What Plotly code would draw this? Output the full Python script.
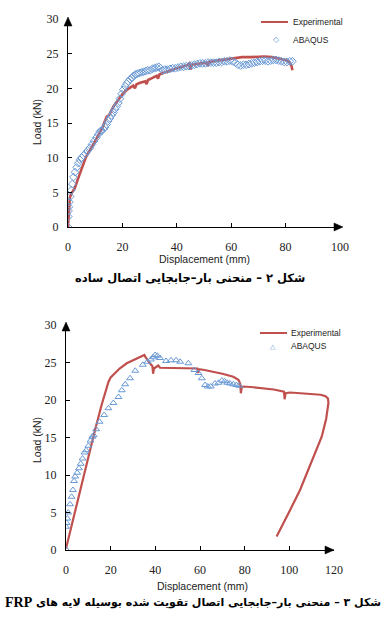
import plotly.graph_objects as go

# ---------- Data: Figure 2 (simple connection) ----------
top_exp_x = [0, 0.3, 0.7, 1.5, 2.5, 4.0, 5.5, 6.6, 8.0, 9.5, 11.0, 12.5, 14.2, 15.2, 16.7, 18.5, 20.3, 22.0,
             24.0, 24.6, 25.2, 26.5, 28.4, 28.9, 29.4, 30.5, 32.6, 33.1, 33.6, 35.0, 37.5, 40.0, 42.0, 43.6,
             44.6, 45.0, 45.4, 47.0, 49.0, 51.0, 51.4, 51.8, 55.0, 58.0, 60.8, 64.0, 67.0, 69.4, 72.0, 75.0,
             77.9, 80.0, 81.6, 82.2, 82.5]
top_exp_y = [0, 2.8, 4.3, 5.0, 5.6, 7.3, 8.9, 10.1, 11.0, 12.0, 13.0, 14.2, 15.9, 16.2, 17.4, 18.4, 19.3, 19.9,
             20.4, 20.0, 20.6, 20.8, 21.0, 20.6, 21.2, 21.4, 21.8, 21.4, 22.0, 22.2, 22.6, 22.9, 23.1, 23.3,
             23.6, 22.7, 23.4, 23.5, 23.6, 23.7, 23.2, 23.8, 24.0, 24.2, 24.3, 24.5, 24.5, 24.6, 24.6, 24.5,
             24.3, 24.1, 23.7, 23.2, 22.6]

top_abq_x = [0, 0.1, 0.2, 0.3, 0.5, 0.8, 1.2, 1.6, 2.0, 2.6, 3.2, 3.8, 4.4, 5.0, 5.7, 6.4, 7.2, 8.0, 8.8, 9.6,
             10.4, 11.2, 11.8, 12.4, 13.0, 13.6, 14.2, 14.8, 15.4, 16.0, 16.7, 17.3, 17.9, 18.5, 19.1, 19.7,
             20.3, 21.0, 21.6, 22.2, 22.8, 23.5, 24.1, 24.8, 25.5, 26.2, 27.0, 27.8, 28.6, 29.4, 30.2, 31.0,
             31.8, 32.6, 33.4, 34.0, 34.8, 35.6, 36.5, 37.5, 38.5, 39.5, 40.5, 41.5, 42.5, 43.5, 44.5, 45.5,
             46.5, 47.5, 48.5, 49.5, 50.5, 51.5, 52.5, 53.5, 54.5, 55.5, 56.5, 57.5, 58.5, 59.5, 60.5, 61.5,
             62.5, 63.5, 64.5, 65.5, 66.5, 67.5, 68.5, 69.5, 70.5, 71.5, 72.5, 73.5, 74.5, 75.5, 76.5, 77.5,
             78.5, 79.5, 80.5, 81.5, 82.5]
top_abq_y = [0, 1.5, 2.3, 2.9, 3.6, 4.4, 5.3, 6.2, 7.2, 7.9, 8.6, 9.2, 9.7, 10.0, 10.3, 10.6, 11.0, 11.4, 11.9,
             12.4, 12.9, 13.4, 13.8, 13.9, 14.1, 14.4, 14.8, 15.3, 15.7, 16.1, 16.5, 17.0, 17.4, 17.9, 18.5,
             19.2, 19.8, 20.3, 20.7, 21.0, 21.3, 21.5, 21.8, 22.0, 22.1, 22.2, 22.3, 22.4, 22.5, 22.6, 22.6,
             22.8, 22.9, 23.0, 23.1, 22.9, 22.6, 22.7, 22.7, 22.8, 22.9, 22.9, 23.0, 23.1, 23.1, 23.2, 23.2,
             23.3, 23.4, 23.5, 23.6, 23.6, 23.6, 23.7, 23.7, 23.7, 23.7, 23.8, 23.8, 23.9, 23.9, 24.0, 23.9,
             23.7, 23.4, 23.3, 23.4, 23.4, 23.5, 23.6, 23.7, 23.8, 23.9, 24.0, 24.0, 23.9, 24.0, 24.1, 24.1,
             24.0, 23.9, 23.8, 23.8, 23.9, 23.9]

# ---------- Data: Figure 3 (FRP-strengthened connection) ----------
bot_exp_x = [0, 6.3, 13.0, 16.0, 19.0, 20.0, 21.2, 24.0, 27.2, 30.0, 31.7, 33.5, 35.1, 35.6, 36.5, 37.6, 38.7,
             39.0, 39.4, 40.3, 41.3, 42.1, 45.0, 50.0, 55.0, 58.8, 59.2, 59.6, 62.0, 66.0, 70.0, 74.9, 77.2,
             78.0, 78.3, 78.7, 79.4, 84.0, 88.4, 93.0, 97.6, 97.9, 98.3, 100.3, 105.0, 110.0, 114.0, 116.2,
             117.3, 117.5, 116.5, 114.5, 111.0, 107.8, 104.8, 100.3, 94.3]
bot_exp_y = [0.2, 8.0, 16.0, 19.4, 22.4, 23.0, 23.4, 24.2, 24.9, 25.3, 25.6, 25.8, 26.0, 25.7, 25.4, 24.9, 24.5,
             23.5, 24.2, 24.4, 24.6, 24.3, 24.3, 24.3, 24.3, 24.2, 23.6, 24.1, 24.0, 23.8, 23.5, 23.1, 22.7,
             22.2, 20.9, 21.7, 21.8, 21.7, 21.6, 21.4, 21.1, 20.1, 20.9, 21.0, 20.9, 20.8, 20.7, 20.5,
             20.2, 19.6, 17.5, 15.1, 12.5, 10.2, 8.0, 5.3, 1.8]

bot_abq_x = [0, 0, 0.3, 0.6, 1.0, 1.8, 2.5, 3.1, 3.6, 4.1, 5.0, 5.8, 6.6, 7.4, 8.3, 9.0, 10.0, 11.0, 11.8, 12.4,
             13.5, 15.0, 17.1, 19.0, 21.2, 23.5, 25.0, 26.5, 28.7, 31.0, 34.4, 36.5, 38.0, 39.0, 39.9, 40.9,
             42.1, 44.8, 47.0, 49.3, 51.1, 54.8, 57.5, 59.3, 60.8, 62.3, 63.5, 64.8, 66.7, 68.3, 69.8, 71.0,
             72.2, 73.4, 74.9, 76.3, 77.6]
bot_abq_y = [0.1, 3.1, 3.6, 4.2, 5.0, 6.1, 7.1, 8.0, 9.2, 9.8, 10.3, 10.9, 11.5, 12.2, 13.0, 13.3, 13.9, 14.6,
             15.1, 15.3, 16.1, 17.1, 18.0, 18.9, 19.6, 20.4, 21.3, 22.1, 22.9, 23.9, 24.7, 25.1, 25.4, 25.7,
             26.0, 25.9, 25.6, 25.2, 25.3, 25.3, 25.1, 24.9, 24.0, 23.6, 22.9, 22.0, 21.8, 21.8, 22.2, 22.3,
             22.6, 22.5, 22.3, 22.2, 22.1, 22.0, 21.9]

x_ticks_top = [0, 20, 40, 60, 80, 100]
x_ticks_bot = [0, 20, 40, 60, 80, 100, 120]
y_ticks = [0, 5, 10, 15, 20, 25, 30]

caption_top = "شکل ۲ – منحنی بار–جابجایی اتصال ساده"
caption_bot_fa = "شکل ۳ – منحنی بار–جابجایی اتصال تقویت شده بوسیله لایه های"
caption_bot_en = "FRP"

RLE, PDF = "\u202b", "\u202c"

# ---------- Layout geometry (pixels) ----------
W, H = 386, 617
RED = "#C0504D"
BLUE = "#6A9AD6"


def px(xp):
    return xp / W


def py(yp):
    return 1 - yp / H


top_x0, top_x1, top_y0, top_y1 = 68, 340, 227, 19
bot_x0, bot_x1, bot_y0, bot_y1 = 66, 334, 550, 325

fig = go.Figure()

fig.add_trace(go.Scatter(x=top_exp_x, y=top_exp_y, mode="lines", line=dict(color=RED, width=2.6),
                         xaxis="x", yaxis="y", showlegend=False))
fig.add_trace(go.Scatter(x=top_abq_x, y=top_abq_y, mode="markers",
                         marker=dict(symbol="diamond-open", size=6, color=BLUE, line=dict(width=1)),
                         xaxis="x", yaxis="y", showlegend=False))
fig.add_trace(go.Scatter(x=bot_exp_x, y=bot_exp_y, mode="lines", line=dict(color=RED, width=2.2),
                         xaxis="x2", yaxis="y2", showlegend=False))
fig.add_trace(go.Scatter(x=bot_abq_x, y=bot_abq_y, mode="markers",
                         marker=dict(symbol="triangle-up-open", size=6, color=BLUE, line=dict(width=1)),
                         xaxis="x2", yaxis="y2", showlegend=False))

tickfont = dict(family="Liberation Serif, Times New Roman, serif", size=12, color="#222")
common_x = dict(showline=True, linecolor="black", linewidth=1.3, ticks="inside", ticklen=4,
                tickcolor="black", showgrid=False, zeroline=False, tickfont=tickfont,
                ticklabelstandoff=8, automargin=False)
common_y = dict(showline=True, linecolor="black", linewidth=1.3, ticks="inside", ticklen=4,
                tickcolor="black", showgrid=False, zeroline=False, tickfont=tickfont,
                ticklabelstandoff=6, automargin=False)

fig.update_layout(
    template="none",
    width=W, height=H, margin=dict(l=0, r=0, t=0, b=0, autoexpand=False),
    paper_bgcolor="white", plot_bgcolor="white", showlegend=False,
    xaxis=dict(domain=[px(top_x0), px(top_x1)], range=[0, 100], tickvals=x_ticks_top,
               anchor="y", **common_x),
    yaxis=dict(domain=[py(top_y0), py(top_y1)], range=[0, 30], tickvals=y_ticks,
               anchor="x", **common_y),
    xaxis2=dict(domain=[px(bot_x0), px(bot_x1)], range=[0, 120], tickvals=x_ticks_bot,
                anchor="y2", **common_x),
    yaxis2=dict(domain=[py(bot_y0), py(bot_y1)], range=[0, 30], tickvals=y_ticks,
                anchor="x2", **common_y),
)

shapes = []


def arrow_right(xt, yc):
    return dict(type="path", xref="paper", yref="paper",
                path=f"M {px(xt-9)} {py(yc-4)} L {px(xt)} {py(yc)} L {px(xt-9)} {py(yc+4)} Z",
                fillcolor="black", line=dict(color="black", width=0.5))


def arrow_up(xc, yt):
    return dict(type="path", xref="paper", yref="paper",
                path=f"M {px(xc-4)} {py(yt+9)} L {px(xc)} {py(yt)} L {px(xc+4)} {py(yt+9)} Z",
                fillcolor="black", line=dict(color="black", width=0.5))


shapes += [arrow_right(343, top_y0), arrow_up(top_x0, 17),
           arrow_right(334, bot_y0), arrow_up(bot_x0, 322)]

# manual legend lines
shapes.append(dict(type="line", xref="paper", yref="paper", x0=px(261), x1=px(288), y0=py(22), y1=py(22),
                   line=dict(color=RED, width=2)))
shapes.append(dict(type="line", xref="paper", yref="paper", x0=px(260), x1=px(287), y0=py(333), y1=py(333),
                   line=dict(color=RED, width=2)))
fig.update_layout(shapes=shapes)

sans = "Liberation Sans, Arial, sans-serif"
ann = []


def text(x, y, s, size, family=sans, color="#222", angle=0, xanchor="center", bold=False):
    return dict(x=px(x), y=py(y), xref="paper", yref="paper", text=(f"<b>{s}</b>" if bold else s),
                showarrow=False, font=dict(family=family, size=size, color=color), textangle=angle,
                xanchor=xanchor, yanchor="middle")


ann.append(text(291, 22, "Experimental", 8.5, xanchor="left"))
ann.append(text(291, 40, "ABAQUS", 8.5, xanchor="left"))
ann.append(text(276, 40, "◇", 8, color=BLUE))
ann.append(text(289, 333, "Experimental", 8.5, xanchor="left"))
ann.append(text(289, 346, "ABAQUS", 8.5, xanchor="left"))
ann.append(text(273, 346, "△", 7, color=BLUE))

ann.append(text(204, 259, "Displacement (mm)", 10.5))
ann.append(text(202, 586, "Displacement (mm)", 10.5))
ann.append(text(37, 122, "Load (kN)", 10.5, angle=-90))
ann.append(text(37, 440, "Load (kN)", 10.5, angle=-90))

ann.append(text(190, 278, RLE + caption_top + PDF, 11.5, family="DejaVu Sans", color="black", bold=True))
ann.append(text(383, 602, RLE + caption_bot_fa + PDF, 11.0, family="DejaVu Sans", color="black",
                bold=True, xanchor="right"))
ann.append(text(3, 602, caption_bot_en, 14, family="Liberation Serif, Times New Roman, serif",
                color="black", bold=True, xanchor="left"))
fig.update_layout(annotations=ann)

fig.write_html("out.html", config={"displayModeBar": False},
               post_script="document.body.style.margin='0';document.body.style.overflow='hidden';")
